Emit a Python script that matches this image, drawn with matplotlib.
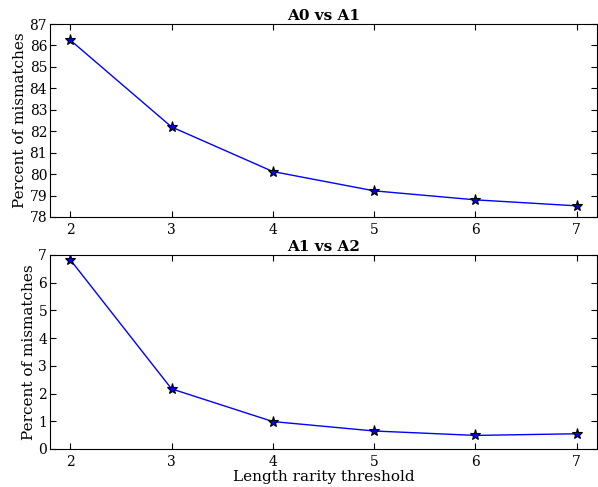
import matplotlib
matplotlib.use('Agg')
import matplotlib.pyplot as plt

# Data
thresholds = [2, 3, 4, 5, 6, 7]
a0_vs_a1 = [86.25, 82.2, 80.12, 79.22, 78.8, 78.52]
a1_vs_a2 = [6.83, 2.17, 0.99, 0.65, 0.49, 0.55]

titles = ['A0 vs A1', 'A1 vs A2']
series = [a0_vs_a1, a1_vs_a2]
ylims = [(78, 87), (0, 7)]

plt.rcParams['font.family'] = 'DejaVu Serif'
plt.rcParams['xtick.direction'] = 'in'
plt.rcParams['ytick.direction'] = 'in'
plt.rcParams['xtick.top'] = True
plt.rcParams['ytick.right'] = True
plt.rcParams['xtick.major.size'] = 4
plt.rcParams['ytick.major.size'] = 4

fig = plt.figure(figsize=(5.98, 4.87), dpi=100)
# axes boxes in figure fractions
boxes = [[50/598, 1-217/487, 547/598, 193/487],
         [50/598, 1-449/487, 547/598, 194/487]]

for i in range(2):
    ax = fig.add_axes(boxes[i])
    ax.plot(thresholds, series[i], 'b-', linewidth=1.0, marker='*', markersize=8,
            markerfacecolor='blue', markeredgecolor='black', markeredgewidth=0.8)
    ax.set_xlim(1.8, 7.2)
    ax.set_ylim(*ylims[i])
    ax.set_xticks(thresholds)
    ax.set_yticks(range(ylims[i][0], ylims[i][1] + 1))
    ax.tick_params(axis='x', labelsize=10, pad=4)
    ax.tick_params(axis='y', labelsize=10, pad=2)
    ax.set_title(titles[i], fontsize=11, fontweight='bold', pad=3)
    ax.set_ylabel('Percent of mismatches', fontsize=11, labelpad=2)
    if i == 1:
        ax.set_xlabel('Length rarity threshold', fontsize=11, labelpad=1)

plt.savefig('out.png', dpi=100)
